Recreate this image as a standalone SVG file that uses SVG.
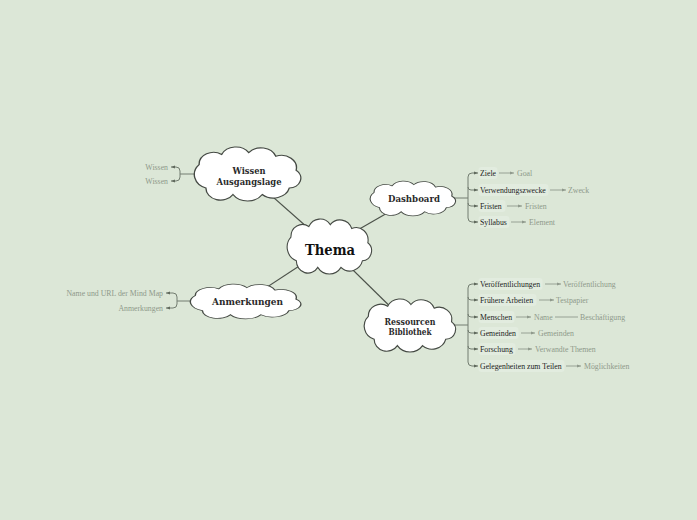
<svg xmlns="http://www.w3.org/2000/svg" xmlns:xlink="http://www.w3.org/1999/xlink" width="697" height="520" viewBox="0 0 697 520">
<style>
.bg{fill:#dce7d7}
.cloud{fill:#fff;stroke:#454a44;stroke-width:1.2;vector-effect:non-scaling-stroke}
.main{stroke:#4c524a;stroke-width:1.2;fill:none}
.br{stroke:#737d70;stroke-width:1;fill:none}
.sub{stroke:#8f998c;stroke-width:0.9;fill:none}
.nl{font-family:"DejaVu Serif","Liberation Serif",serif;font-weight:bold;font-size:9px;fill:#2a2a2a;text-anchor:middle}
.th{font-family:"DejaVu Serif","Liberation Serif",serif;font-weight:bold;font-size:14px;fill:#111;text-anchor:middle}
.p{font-family:"Liberation Serif","Times New Roman",serif;font-size:7.8px;fill:#1c1c1c}
.c{font-family:"Liberation Serif","Times New Roman",serif;font-size:7.8px;fill:#8e998a}
.box{fill:#e2ecdf}
</style>
<defs>
<path id="cl" d="M-42,-10 A12.8,12.8 0 0 1 -22,-21 A13.9,13.9 0 0 1 2,-23 A14.1,14.1 0 0 1 26,-19 A13.3,13.3 0 0 1 44,-4 A10.6,10.6 0 0 1 38,15 A14.6,14.6 0 0 1 14,22 A15.6,15.6 0 0 1 -12,22 A13,13 0 0 1 -36,15 A15.3,15.3 0 0 1 -42,-10 Z"/>
<marker id="ad" markerUnits="userSpaceOnUse" markerWidth="4" markerHeight="4" refX="4" refY="2" orient="auto"><path d="M0,0.4 L4,2 L0,3.6 Z" fill="#5f695c"/></marker>
<marker id="ag" markerUnits="userSpaceOnUse" markerWidth="4" markerHeight="4" refX="4" refY="2" orient="auto"><path d="M0,0.4 L4,2 L0,3.6 Z" fill="#8f998c"/></marker>
</defs>
<rect class="bg" x="0" y="0" width="697" height="520"/>

<g id="connectors">
<line class="main" x1="329" y1="246.5" x2="247" y2="174"/>
<line class="main" x1="329" y1="246.5" x2="412.5" y2="198.5"/>
<line class="main" x1="329" y1="246.5" x2="409.5" y2="325.5"/>
<line class="main" x1="329" y1="246.5" x2="245" y2="301.5"/>
<!-- Wissen bracket -->
<path class="br" d="M196,174 H180"/>
<path class="br" marker-end="url(#ad)" d="M180,174 V171 Q180,167 176,167 H171"/>
<path class="br" marker-end="url(#ad)" d="M180,174 V177 Q180,181 176,181 H171"/>
<!-- Anmerkungen bracket -->
<path class="br" d="M192,301 H177"/>
<path class="br" marker-end="url(#ad)" d="M177,301 V297 Q177,293 173,293 H166"/>
<path class="br" marker-end="url(#ad)" d="M177,301 V304 Q177,308 173,308 H166"/>
<!-- Dashboard bracket -->
<path class="br" d="M453,198 H468"/>
<path class="br" marker-end="url(#ad)" d="M468,198 V177 Q468,173 472,173 H478"/>
<path class="br" marker-end="url(#ad)" d="M468,187 Q468,190 471,190 H478"/>
<path class="br" marker-end="url(#ad)" d="M468,203 Q468,206 471,206 H478"/>
<path class="br" marker-end="url(#ad)" d="M468,198 V218 Q468,222 472,222 H478"/>
<!-- Dashboard children -->
<path class="sub" marker-end="url(#ag)" d="M499,173 H514"/>
<path class="sub" marker-end="url(#ag)" d="M550,190 H566"/>
<path class="sub" marker-end="url(#ag)" d="M507,206 H522"/>
<path class="sub" marker-end="url(#ag)" d="M511,222 H526"/>
<!-- Ressourcen bracket -->
<path class="br" d="M453,325 H468"/>
<path class="br" marker-end="url(#ad)" d="M468,325 V288 Q468,284 472,284 H478"/>
<path class="br" marker-end="url(#ad)" d="M468,297 Q468,300 471,300 H478"/>
<path class="br" marker-end="url(#ad)" d="M468,314 Q468,317 471,317 H478"/>
<path class="br" marker-end="url(#ad)" d="M468,330 Q468,333 471,333 H478"/>
<path class="br" marker-end="url(#ad)" d="M468,346 Q468,349 471,349 H478"/>
<path class="br" marker-end="url(#ad)" d="M468,325 V362 Q468,366 472,366 H478"/>
<!-- Ressourcen children -->
<path class="sub" marker-end="url(#ag)" d="M545,284 H561"/>
<path class="sub" marker-end="url(#ag)" d="M539,300 H554"/>
<path class="sub" marker-end="url(#ag)" d="M516,317 H531"/>
<path class="sub" d="M555,317 H578"/>
<path class="sub" marker-end="url(#ag)" d="M521,333 H535"/>
<path class="sub" marker-end="url(#ag)" d="M518,349 H532"/>
<path class="sub" marker-end="url(#ag)" d="M566,366 H581"/>
</g>

<g id="thema">
<use xlink:href="#cl" class="cloud" transform="translate(328.5,246.5) scale(0.894,0.948)"/>
<text class="th" x="330" y="255" textLength="50" lengthAdjust="spacingAndGlyphs">Thema</text>
</g>
<g id="wissen">
<use xlink:href="#cl" class="cloud" transform="translate(246.5,174) scale(1.128,0.931)"/>
<text class="nl" x="249" y="173.5" textLength="33" lengthAdjust="spacingAndGlyphs">Wissen</text>
<text class="nl" x="249" y="184.5" textLength="65" lengthAdjust="spacingAndGlyphs">Ausgangslage</text>
</g>
<g id="dashboard">
<use xlink:href="#cl" class="cloud" transform="translate(412,198.5) scale(0.904,0.603)"/>
<text class="nl" x="414" y="202" textLength="52" lengthAdjust="spacingAndGlyphs">Dashboard</text>
</g>
<g id="ressourcen">
<use xlink:href="#cl" class="cloud" transform="translate(409,325.5) scale(0.968,0.914)"/>
<text class="nl" x="410" y="325" textLength="51" lengthAdjust="spacingAndGlyphs">Ressourcen</text>
<text class="nl" x="410" y="335" textLength="43" lengthAdjust="spacingAndGlyphs">Bibliothek</text>
</g>
<g id="anmerkungen">
<use xlink:href="#cl" class="cloud" transform="translate(244.5,301.5) scale(1.17,0.603)"/>
<text class="nl" x="247.5" y="305" textLength="71" lengthAdjust="spacingAndGlyphs">Anmerkungen</text>
</g>

<g id="wissen-items">
<text class="c" x="168" y="169.8" text-anchor="end">Wissen</text>
<text class="c" x="168" y="183.8" text-anchor="end">Wissen</text>
</g>
<g id="anmerkungen-items">
<text class="c" x="163" y="295.8" text-anchor="end">Name und URL der Mind Map</text>
<text class="c" x="163" y="310.8" text-anchor="end">Anmerkungen</text>
</g>

<g id="dashboard-items">
<rect class="box" x="478.5" y="167" width="19" height="12" rx="3"/>
<rect class="box" x="478.5" y="184" width="70" height="12" rx="3"/>
<rect class="box" x="478.5" y="200" width="27" height="12" rx="3"/>
<rect class="box" x="478.5" y="216" width="31" height="12" rx="3"/>
<text class="p" x="480" y="175.8">Ziele</text>
<text class="c" x="517" y="175.8">Goal</text>
<text class="p" x="480" y="192.8">Verwendungszwecke</text>
<text class="c" x="568" y="192.8">Zweck</text>
<text class="p" x="480" y="208.8">Fristen</text>
<text class="c" x="525" y="208.8">Fristen</text>
<text class="p" x="480" y="224.8">Syllabus</text>
<text class="c" x="529" y="224.8">Element</text>
</g>

<g id="ressourcen-items">
<rect class="box" x="478.5" y="278" width="64" height="12" rx="3"/>
<rect class="box" x="478.5" y="294" width="58" height="12" rx="3"/>
<rect class="box" x="478.5" y="311" width="36" height="12" rx="3"/>
<rect class="box" x="478.5" y="327" width="40" height="12" rx="3"/>
<rect class="box" x="478.5" y="343" width="37" height="12" rx="3"/>
<rect class="box" x="478.5" y="360" width="86" height="12" rx="3"/>
<text class="p" x="480" y="286.8">Veröffentlichungen</text>
<text class="c" x="563" y="286.8">Veröffentlichung</text>
<text class="p" x="480" y="302.8">Frühere Arbeiten</text>
<text class="c" x="556" y="302.8">Testpapier</text>
<text class="p" x="480" y="319.8">Menschen</text>
<text class="c" x="534" y="319.8">Name</text>
<text class="c" x="580" y="319.8">Beschäftigung</text>
<text class="p" x="480" y="335.8">Gemeinden</text>
<text class="c" x="538" y="335.8">Gemeinden</text>
<text class="p" x="480" y="351.8">Forschung</text>
<text class="c" x="535" y="351.8">Verwandte Themen</text>
<text class="p" x="480" y="368.8">Gelegenheiten zum Teilen</text>
<text class="c" x="584" y="368.8">Möglichkeiten</text>
</g>
</svg>
